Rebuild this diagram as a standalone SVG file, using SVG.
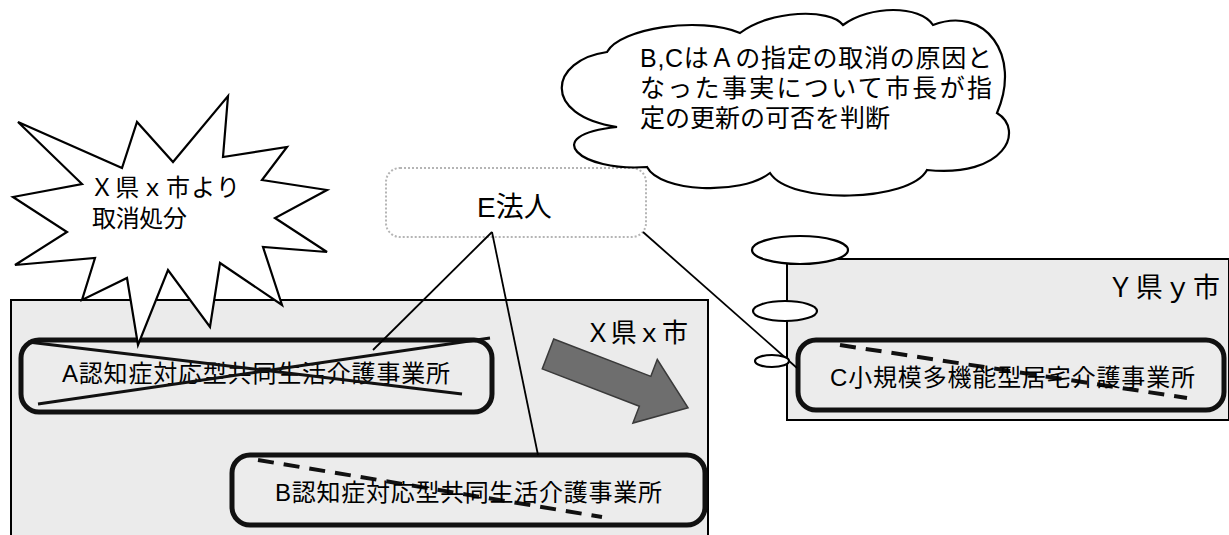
<svg xmlns="http://www.w3.org/2000/svg" width="1229" height="535" viewBox="0 0 1229 535">
<style>
.t{font-family:"Liberation Sans","Noto Sans CJK JP",sans-serif;fill:#000}
.region{fill:#ebebeb;stroke:#000;stroke-width:2}
.node{fill:#ececec;stroke:#111;stroke-width:5}
.ln{stroke:#000;stroke-width:1.8;fill:none}
.cross{stroke:#111;stroke-width:3;fill:none}
.dash{stroke:#111;stroke-width:4;fill:none;stroke-dasharray:16 10}
.bub{fill:#fff;stroke:#000;stroke-width:2.2}
</style>
<rect width="1229" height="535" fill="#fff"/>

<g id="region-x">
<path class="region" d="M11,540 L11,300 L708,300 L708,540"/>
<text class="t" x="585" y="342" font-size="26" textLength="103">Ｘ県ｘ市</text>
</g>

<g id="region-y">
<rect class="region" x="787" y="259" width="442" height="161"/>
<text class="t" x="1107" y="297" font-size="27" textLength="113">Ｙ県ｙ市</text>
</g>

<g id="node-a">
<rect class="node" x="21" y="340" width="471" height="72" rx="18"/>
<text class="t" x="62" y="382" font-size="24" textLength="388">A認知症対応型共同生活介護事業所</text>
<line class="cross" x1="28" y1="342" x2="462" y2="394"/>
<line class="cross" x1="38" y1="404" x2="490" y2="338"/>
</g>

<g id="node-b">
<rect class="node" x="232" y="455" width="473" height="70" rx="18"/>
<line class="dash" x1="258" y1="460" x2="602" y2="517"/>
<text class="t" x="275" y="501" font-size="24" textLength="387">B認知症対応型共同生活介護事業所</text>
</g>

<g id="node-c">
<rect class="node" x="798" y="340" width="426" height="70" rx="18"/>
<line class="dash" x1="840" y1="345" x2="1187" y2="398"/>
<text class="t" x="830" y="386" font-size="24" textLength="365">C小規模多機能型居宅介護事業所</text>
</g>

<g id="arrow">
<polygon transform="translate(548,354) rotate(21)" points="0,-16 104,-16 104,-34 150,0 104,34 104,16 0,16" fill="#6e6e6e" stroke="#3a3a3a" stroke-width="1.5"/>
</g>

<g id="node-e">
<rect x="386" y="168" width="260" height="69" rx="14" fill="#fff" stroke="#b5b5b5" stroke-width="2" stroke-dasharray="2 2"/>
<text class="t" x="477" y="217" font-size="28">E法人</text>
</g>

<g id="connectors">
<line class="ln" x1="492" y1="232" x2="373" y2="350"/>
<line class="ln" x1="492" y1="232" x2="538" y2="455"/>
<line class="ln" x1="643" y1="232" x2="797" y2="368"/>
</g>

<g id="burst">
<polygon class="bub" points="18,122 122,168 137,122 173,162 228,96 223,157 287,147 262,180 327,190 275,218 327,252 263,247 282,305 220,263 210,327 168,270 138,345 127,278 82,300 95,258 15,265 67,232 13,197 82,184"/>
<text class="t" x="90" y="196" font-size="24" textLength="150">Ｘ県ｘ市より</text>
<text class="t" x="92" y="227" font-size="24" textLength="95">取消処分</text>
</g>

<g id="cloud">
<path class="bub" d="M607,52 C620,28 700,16 740,33 C770,10 830,8 843,25 C870,5 920,5 933,25 C985,5 1022,55 997,113 C1025,130 1005,178 927,170 C910,202 790,205 770,173 C740,196 660,192 647,167 C580,172 538,135 617,127 C540,115 550,60 607,52 Z"/>
<ellipse class="bub" cx="800" cy="250" rx="48" ry="14"/>
<ellipse class="bub" cx="785" cy="311" rx="32" ry="10"/>
<ellipse class="bub" cx="772" cy="361" rx="17" ry="6"/>
<text class="t" x="640" y="67" font-size="25" textLength="352">B,CはＡの指定の取消の原因と</text>
<text class="t" x="640" y="97" font-size="25" textLength="352">なった事実について市長が指</text>
<text class="t" x="640" y="127" font-size="25" textLength="250">定の更新の可否を判断</text>
</g>
</svg>
